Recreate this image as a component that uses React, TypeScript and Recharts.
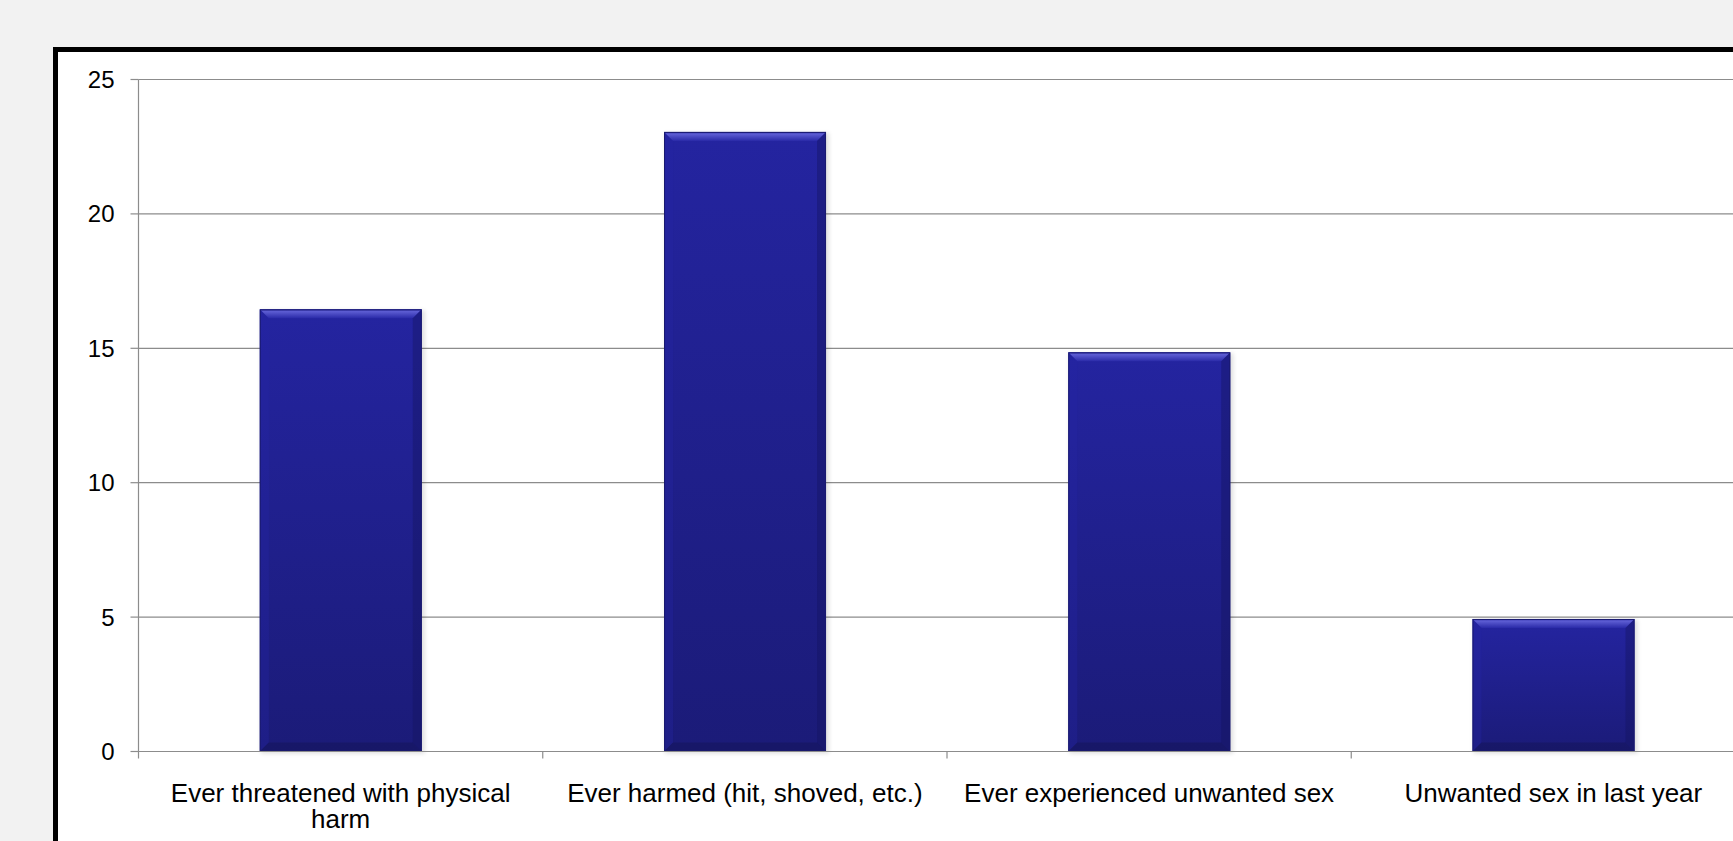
import React from 'react';
import { BarChart, Bar, XAxis, YAxis, CartesianGrid } from 'recharts';

const categories = [
  'Ever threatened with physical harm',
  'Ever harmed (hit, shoved, etc.)',
  'Ever experienced unwanted sex',
  'Unwanted sex in last year',
];
const values = [16.45, 23.05, 14.85, 4.93];
const yTicks = [0, 5, 10, 15, 20, 25];

const data = categories.map((name, i) => ({ name, value: values[i] }));

const AXIS_GRAY = '#8c8c8c';
const X_TICK_SIZE = 7;
const X_TICK_MARGIN = 25;
const LABEL_FONT_SIZE = 26;
const LABEL_FONT_FAMILY = '"Liberation Sans", Arial, sans-serif';
const LABEL_WRAP = 390;

let measureCtx: CanvasRenderingContext2D | null = null;
function wrapLabel(text: string, maxW: number): string[] {
  if (!measureCtx) {
    measureCtx = document.createElement('canvas').getContext('2d');
  }
  const ctx = measureCtx;
  if (!ctx) return [text];
  ctx.font = `${LABEL_FONT_SIZE}px ${LABEL_FONT_FAMILY}`;
  const words = text.split(' ');
  const lines: string[] = [];
  let cur = '';
  for (const w of words) {
    const cand = cur ? cur + ' ' + w : w;
    if (cur && ctx.measureText(cand).width > maxW) {
      lines.push(cur);
      cur = w;
    } else {
      cur = cand;
    }
  }
  if (cur) lines.push(cur);
  return lines;
}

function BevelBar(props: any) {
  const { x, y, width, height } = props;
  if (!height || height <= 0) return null;
  const b = Math.min(9, height / 2, width / 2);
  return (
    <g>
      <rect x={x + 1} y={y + 1} width={width + 2} height={height + 1} fill="#000" opacity={0.12} filter="url(#barShadow)" />
      <rect x={x} y={y} width={width} height={height} fill="url(#barBody)" />
      <polygon
        points={`${x},${y} ${x + width},${y} ${x + width - b},${y + b} ${x + b},${y + b}`}
        fill="url(#bevTop)"
      />
      <polygon
        points={`${x},${y} ${x + b},${y + b} ${x + b},${y + height - b} ${x},${y + height}`}
        fill="#2626a2"
        opacity={0.35}
      />
      <polygon
        points={`${x + width},${y} ${x + width - b},${y + b} ${x + width - b},${y + height - b} ${x + width},${y + height}`}
        fill="#141460"
        opacity={0.4}
      />
      <polygon
        points={`${x},${y + height} ${x + b},${y + height - b} ${x + width - b},${y + height - b} ${x + width},${y + height}`}
        fill="#131358"
        opacity={0.5}
      />
      <rect x={x + 0.5} y={y + 0.5} width={width - 1} height={height - 1} fill="none" stroke="#1a1a70" strokeWidth={1} />
    </g>
  );
}

function XTick(props: any) {
  const { x, y, payload, index, visibleTicksCount } = props;
  const axisY = y - X_TICK_SIZE - X_TICK_MARGIN;
  const off = payload && typeof payload.offset === 'number' ? payload.offset : 0;
  const isLast = index === (visibleTicksCount ?? categories.length) - 1;
  const lines = wrapLabel(String(payload.value), LABEL_WRAP);
  return (
    <g>
      <line x1={x - off} x2={x - off} y1={axisY} y2={axisY + X_TICK_SIZE} stroke={AXIS_GRAY} strokeWidth={1.2} />
      {isLast && (
        <line x1={x + off} x2={x + off} y1={axisY} y2={axisY + X_TICK_SIZE} stroke={AXIS_GRAY} strokeWidth={1.2} />
      )}
      <text
        x={x}
        y={y}
        textAnchor="middle"
        fill="#000"
        style={{ fontSize: LABEL_FONT_SIZE, fontFamily: LABEL_FONT_FAMILY }}
      >
        {lines.map((ln, i) => (
          <tspan key={i} x={x} dy={i === 0 ? '0.71em' : 26}>
            {ln}
          </tspan>
        ))}
      </text>
    </g>
  );
}

export default function App() {
  return (
    <div
      style={{
        position: 'fixed',
        left: 0,
        top: 0,
        width: 1733,
        height: 841,
        background: '#f2f2f2',
        overflow: 'hidden',
      }}
    >
      <svg width={0} height={0} style={{ position: 'absolute' }}>
        <defs>
          <linearGradient id="barBody" x1="0" y1="0" x2="0" y2="1">
            <stop offset="0%" stopColor="#2424a0" />
            <stop offset="100%" stopColor="#1b1b78" />
          </linearGradient>
          <linearGradient id="bevTop" x1="0" y1="0" x2="0" y2="1">
            <stop offset="0%" stopColor="#3a3ab0" />
            <stop offset="25%" stopColor="#5c5cd2" />
            <stop offset="100%" stopColor="#2a2aa8" />
          </linearGradient>
          <filter id="barShadow" x="-10%" y="-10%" width="120%" height="120%">
            <feGaussianBlur stdDeviation="2" />
          </filter>
        </defs>
      </svg>
      <div
        style={{
          position: 'absolute',
          left: 53,
          top: 47,
          width: 1800,
          height: 900,
          border: '5.5px solid #000',
          background: '#fff',
          boxSizing: 'border-box',
        }}
      />
      <div style={{ position: 'absolute', left: 0, top: 0 }}>
        <BarChart
          width={1800}
          height={841}
          data={data}
          margin={{ top: 79.5, right: 44.5, left: 78.5, bottom: 29.5 }}
          barCategoryGap="30%"
        >
          <CartesianGrid vertical={false} stroke={AXIS_GRAY} strokeWidth={1.2} />
          <XAxis
            dataKey="name"
            height={60}
            interval={0}
            axisLine={{ stroke: AXIS_GRAY, strokeWidth: 1.2 }}
            tickLine={false}
            tickSize={X_TICK_SIZE}
            tickMargin={X_TICK_MARGIN}
            tick={<XTick />}
          />
          <YAxis
            width={60}
            domain={[0, 25]}
            ticks={yTicks}
            interval={0}
            axisLine={{ stroke: AXIS_GRAY, strokeWidth: 1.2 }}
            tickLine={{ stroke: AXIS_GRAY, strokeWidth: 1.2 }}
            tickSize={8}
            tickMargin={16}
            tick={{ fill: '#000', fontSize: 24, fontFamily: LABEL_FONT_FAMILY }}
          />
          <Bar dataKey="value" isAnimationActive={false} shape={(p: any) => <BevelBar {...p} />} />
        </BarChart>
      </div>
    </div>
  );
}
